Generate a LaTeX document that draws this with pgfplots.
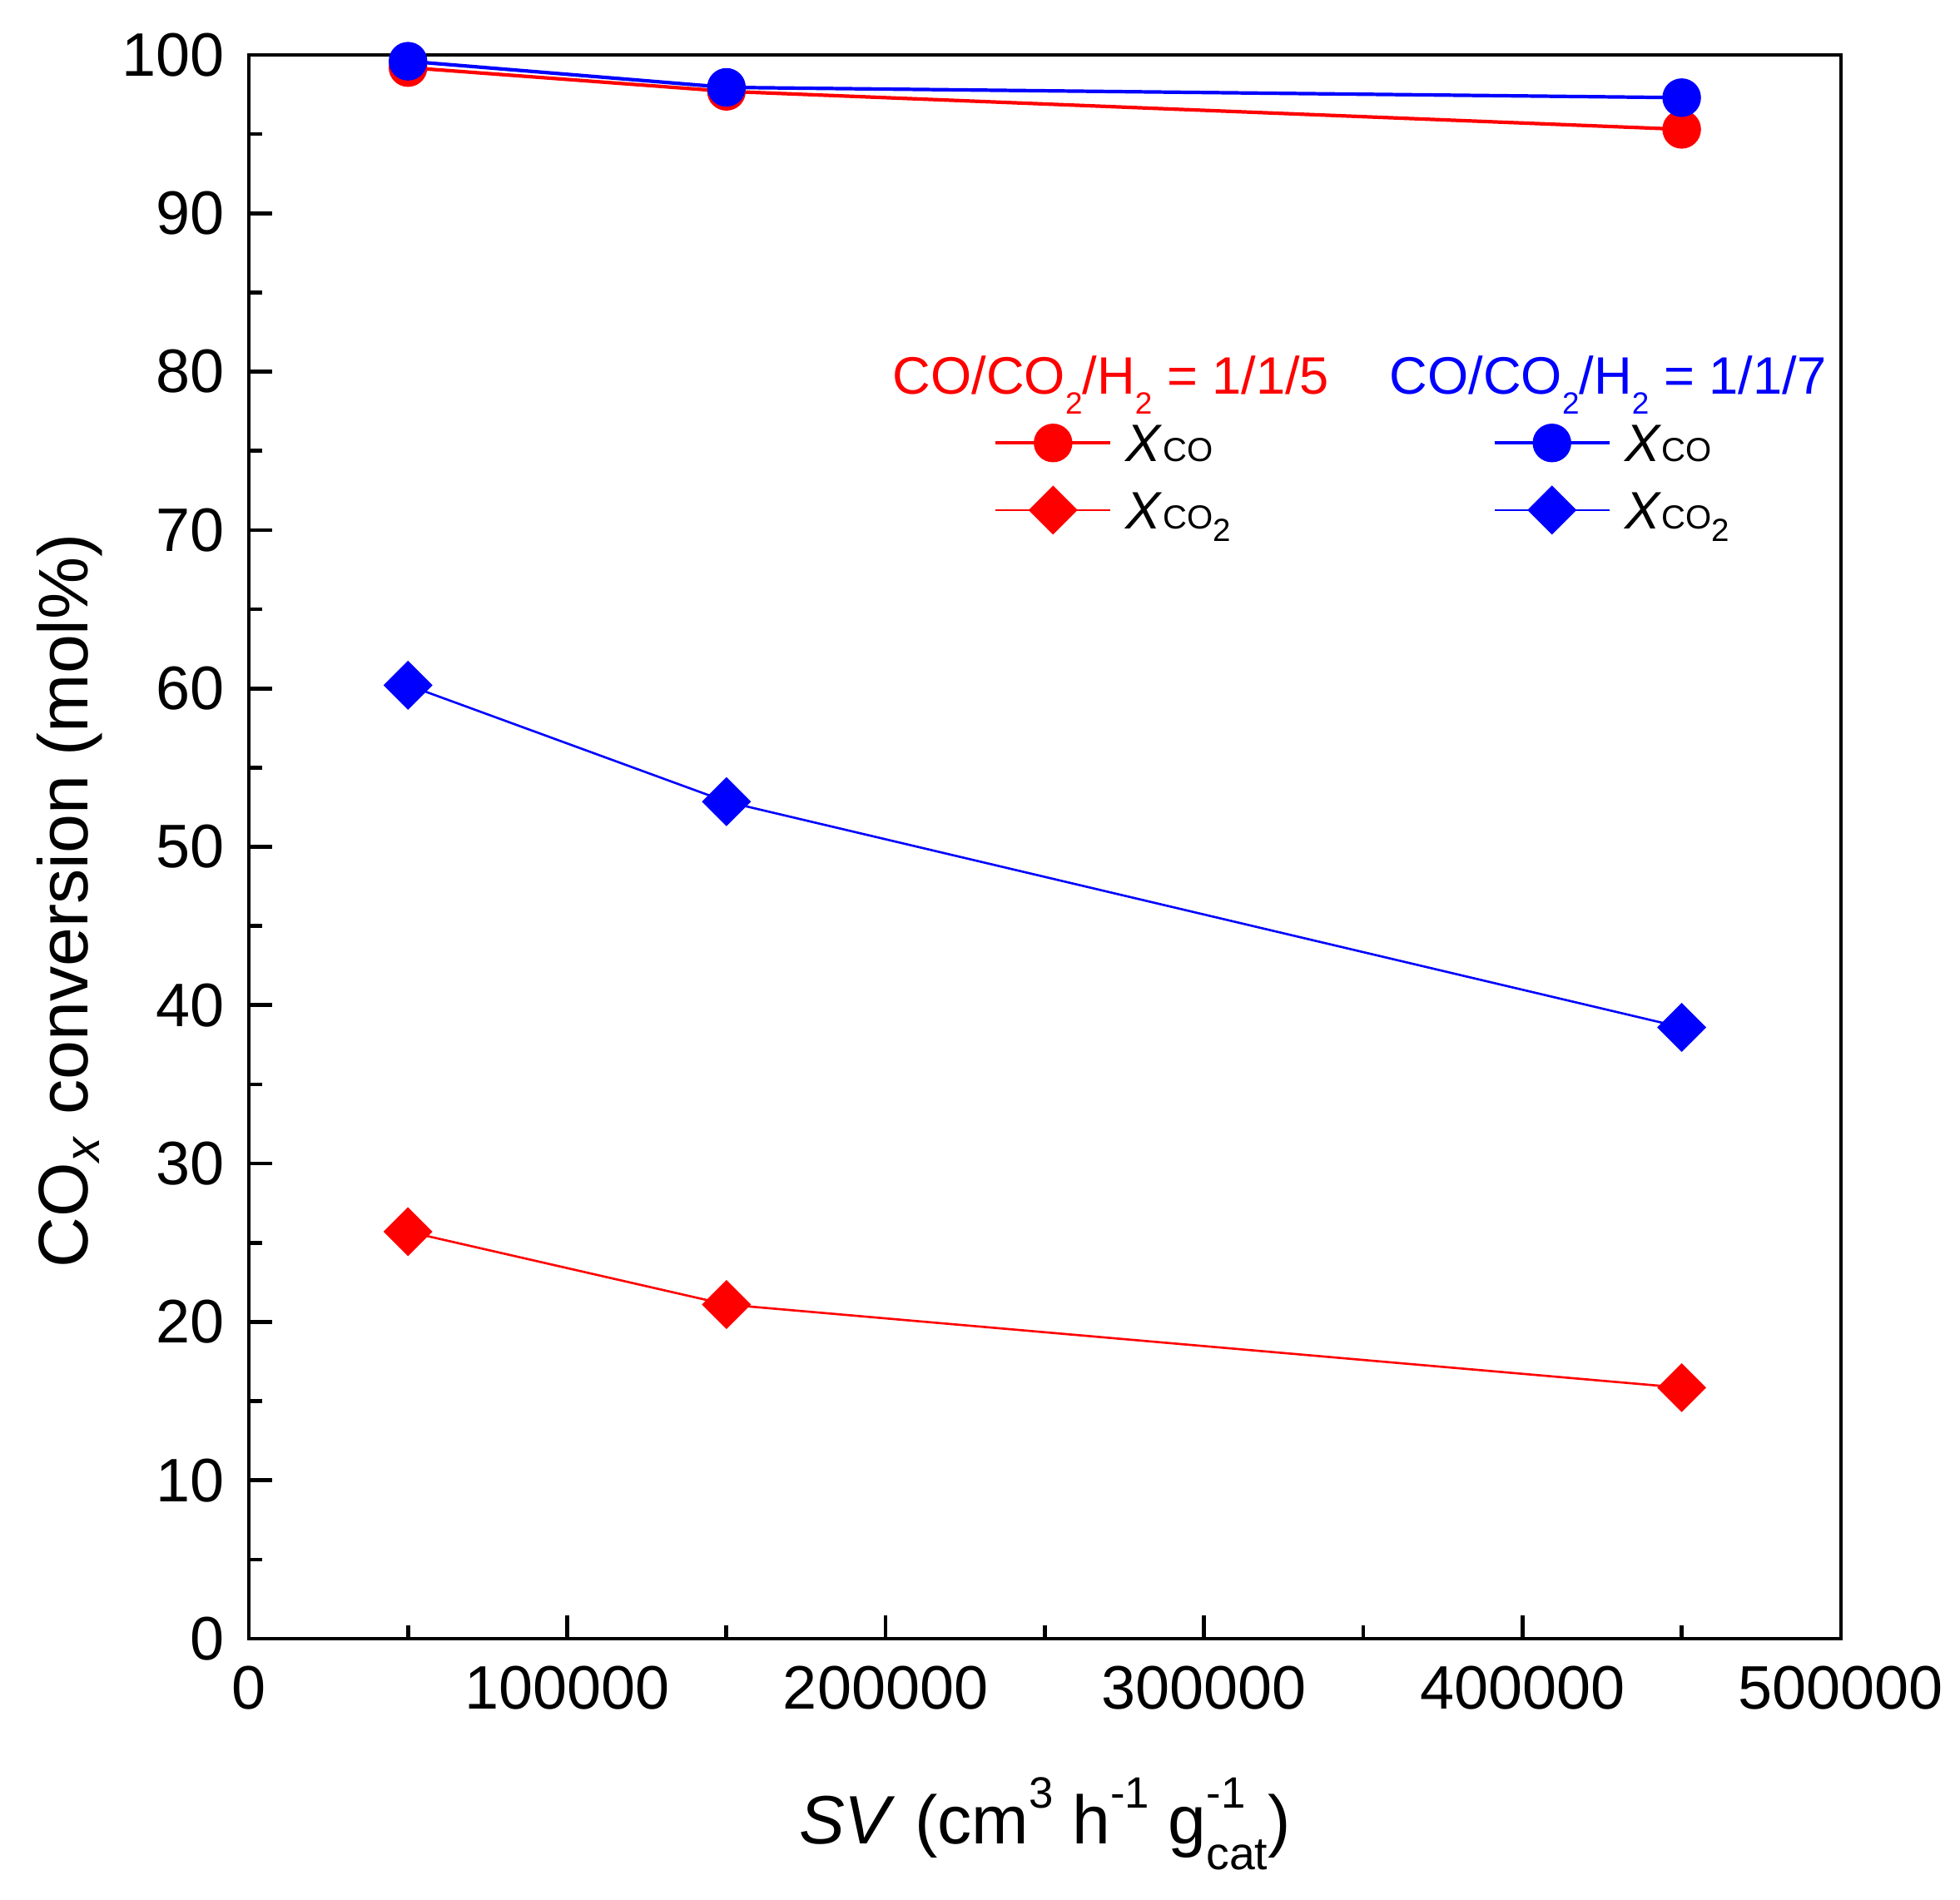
\documentclass[border=0pt]{standalone}
\usepackage{fontspec}
\setmainfont{Liberation Sans}
\usepackage{pgfplots}
\pgfplotsset{compat=1.18}
\usetikzlibrary{calc}

\newcommand{\Xco}{\textit{X}{\fontsize{7.6}{7.6}\selectfont CO}}
\newcommand{\Xcoo}{\textit{X}{\fontsize{7.6}{7.6}\selectfont CO\raisebox{-2.8pt}{\fontsize{7.3}{7.3}\selectfont 2}}}
\newcommand{\lowtwo}{\raisebox{-4.5pt}{\fontsize{7}{7}\selectfont 2}}
\newcommand{\mysup}[1]{\raisebox{8pt}{\fontsize{10}{10}\selectfont #1}}
\newcommand{\mysub}[1]{\raisebox{-6pt}{\fontsize{10.5}{10.5}\selectfont #1}}

\begin{document}
\begin{tikzpicture}
\path[use as bounding box] (-1.993cm,-2.093cm) rectangle (13.707cm,13.127cm);
\begin{axis}[
  at={(0,0)}, anchor=south west, scale only axis,
  width=12.753cm, height=12.687cm,
  xmin=0, xmax=500000, ymin=0, ymax=100,
  xtick={0,100000,200000,300000,400000,500000},
  ytick={0,10,...,100},
  minor x tick num=1, minor y tick num=1,
  xtick pos=bottom, ytick pos=left,
  tick align=inside,
  major tick length=0.19cm, minor tick length=0.107cm,
  axis line style={line width=0.9pt},
  tick style={line width=0.9pt, black},
  scaled x ticks=false,
  /pgf/number format/assume math mode=true,
  /pgf/number format/1000 sep={},
  xticklabel style={/pgf/number format/fixed, yshift=-2.8pt},
  tick label style={font=\fontsize{14}{14}\selectfont},
  yticklabel style={xshift=-2pt},
  label style={font=\fontsize{15.6}{15.6}\selectfont},
  xlabel={\textit{SV} (cm\mysup{3} h\mysup{-1} g\rlap{\mysup{-1}}\mysub{cat})},
  ylabel={CO\textsubscript{\textit{x}} conversion (mol\%)},
  xlabel style={at={($(rel axis cs:0.5,0)+(0,-1.64cm)$)}, anchor=base},
  ylabel style={at={($(rel axis cs:0,0.466)+(-1.29cm,0)$)}, anchor=base, font=\fontsize{16}{16}\selectfont},
  legend columns=2,
  legend cell align=left,
  legend style={at={(rel axis cs:0.468,0.7338)}, anchor=west, draw=none, fill=none,
    inner sep=0pt, outer sep=0pt, row sep=0pt,
    font=\fontsize{12}{12}\selectfont,
    nodes={inner sep=0pt, text height=11.95pt, text depth=3.35pt},
    /tikz/every odd column/.append style={column sep=0.11cm},
    /tikz/every even column/.append style={column sep=2.1cm}},
  legend image code/.code={\draw[mark repeat=2,mark phase=2] plot coordinates {(0cm,0cm) (0.46cm,0cm) (0.92cm,0cm)};},
]
\addplot[red, line width=0.8pt, mark=*, mark size=4pt, mark options={solid}]
  coordinates {(50000,99.2) (150000,97.7) (450000,95.3)};
\addlegendentry{\Xco}
\addplot[blue, line width=0.8pt, mark=*, mark size=4pt, mark options={solid}]
  coordinates {(50000,99.6) (150000,97.95) (450000,97.3)};
\addlegendentry{\Xco}
\addplot[red, line width=0.5pt, mark=square*, mark size=3.7pt, mark options={solid, rotate=45}]
  coordinates {(50000,25.7) (150000,21.1) (450000,15.85)};
\addlegendentry{\Xcoo}
\addplot[blue, line width=0.5pt, mark=square*, mark size=3.7pt, mark options={solid, rotate=45}]
  coordinates {(50000,60.2) (150000,52.85) (450000,38.6)};
\addlegendentry{\Xcoo}
\node[anchor=base, red, font=\fontsize{12}{12}\selectfont] at (rel axis cs:0.5416,0.7857) {CO/CO\lowtwo/H\lowtwo{} = 1/1/5};
\node[anchor=base, blue, font=\fontsize{12}{12}\selectfont] at (rel axis cs:0.8537,0.7857) {CO/CO\lowtwo/H\lowtwo{} = 1/1/7};
\end{axis}
\end{tikzpicture}
\end{document}
